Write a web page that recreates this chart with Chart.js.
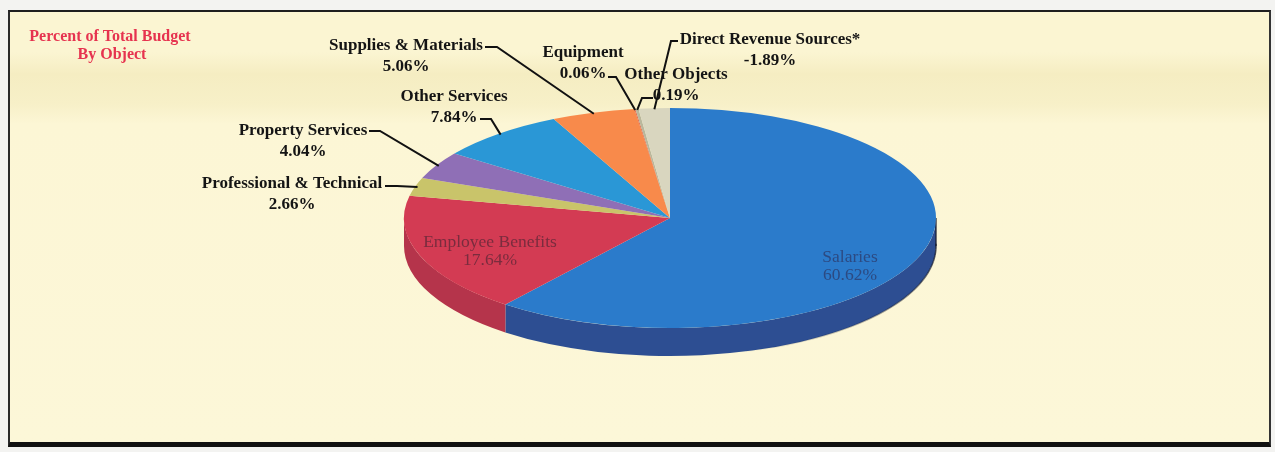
<!DOCTYPE html>
<html>
<head>
<meta charset="utf-8">
<title>Percent of Total Budget By Object</title>
<script src="https://cdn.jsdelivr.net/npm/chart.js@4.4.1/dist/chart.umd.min.js"></script>
<style>
  html, body { margin: 0; padding: 0; background: #f3f3f1; }
  #wrap { position: relative; width: 1275px; height: 452px; overflow: hidden; }
  #panel {
    position: absolute; left: 8px; top: 10px; width: 1259px; height: 430px;
    border-top: 2px solid #1e1e1e; border-left: 2px solid #2a2a2a;
    border-right: 2px solid #333; border-bottom: 5px solid #111;
    background: linear-gradient(to bottom, #fbf5d2 0px, #fbf5d2 40px, #f5edc2 62px,
      #f7f0c8 92px, #fcf6d5 112px, #fcf7d8 100%);
  }
  canvas { position: absolute; left: 0; top: 0; }
</style>
</head>
<body>
<div id="wrap">
  <div id="panel"></div>
  <canvas id="budgetPie" width="1275" height="452"></canvas>
</div>
<script>
// Slices, clockwise from 12 o'clock
const categories = [
  'Salaries',
  'Employee Benefits',
  'Professional & Technical',
  'Property Services',
  'Other Services',
  'Supplies & Materials',
  'Equipment',
  'Other Objects',
  'Direct Revenue Sources*'
];
const percentValues = [60.62, 17.64, 2.66, 4.04, 7.84, 5.06, 0.06, 0.19, -1.89];

const titleLines = ['Percent of Total Budget', 'By Object'];

// top face / side wall colours
const sliceColors = ['#2b7bcb', '#d33b53', '#c9c46a', '#8f6fb6', '#2a97d6', '#f88a4b', '#e0604a', '#b9b79c', '#d9d6bf'];
const sideColors  = ['#2d4e92', '#b5344b', '#a9a453', '#6f5396', '#23709f', '#c86a36', '#b0503a', '#929278', '#b0ad98'];

// ellipse shape of the 3D pie
const RX = 266, RY = 110, DEPTH = 28;
const PIE_R = 200;
const PIE_CX = 670, PIE_CY = 218;

// where each label sits; leader = text end -> elbow -> slice rim
const labelLayout = {
  0: { inside: true, x: 850, y: 257, color: '#2c4a82' },
  1: { inside: true, x: 490, y: 242, color: '#7a2c3e' },
  2: { x: 292, y: 184, from: [385, 186], elbow: [397, 186] },
  3: { x: 303, y: 131, from: [369, 131], elbow: [380, 131] },
  4: { x: 454, y: 97,  from: [480, 119], elbow: [491, 119] },
  5: { x: 406, y: 46,  from: [485, 47],  elbow: [497, 47] },
  6: { x: 583, y: 53,  from: [608, 77],  elbow: [616, 77] },
  7: { x: 676, y: 75,  from: [653, 98],  elbow: [642, 98] },
  8: { x: 770, y: 40,  from: [678, 41],  elbow: [671, 41] }
};

const fmt = v => v.toFixed(2) + '%';

const pie3d = {
  id: 'pie3d',
  beforeDatasetsDraw(chart) {
    const ctx = chart.ctx;
    const arcs = chart.getDatasetMeta(0).data;
    const cx = arcs[0].x, cy = arcs[0].y, r = arcs[0].outerRadius;

    // side wall, only the front half (canvas angles 0..PI) is visible
    arcs.forEach((arc, i) => {
      const a = Math.max(arc.startAngle, 0);
      const b = Math.min(arc.endAngle, Math.PI);
      if (b <= a) return;
      ctx.beginPath();
      ctx.ellipse(cx, cy, RX, RY, 0, a, b);
      ctx.ellipse(cx, cy + DEPTH, RX, RY, 0, b, a, true);
      ctx.closePath();
      ctx.fillStyle = sideColors[i];
      ctx.fill();
    });
    // soft dark rim on the shadow side
    ctx.save();
    ctx.lineWidth = 1.5;
    const steps = 24;
    for (let k = 0; k < steps; k++) {
      const t0 = -0.02 + (1.3 * k) / steps;
      const t1 = -0.02 + (1.3 * (k + 1)) / steps;
      ctx.strokeStyle = `rgba(20,25,45,${(0.8 * (1 - k / steps)).toFixed(3)})`;
      ctx.beginPath();
      ctx.ellipse(cx, cy + DEPTH, RX, RY, 0, t0, t1);
      ctx.stroke();
    }
    ctx.strokeStyle = 'rgba(20,25,45,0.8)';
    ctx.beginPath();
    ctx.moveTo(cx + RX, cy);
    ctx.lineTo(cx + RX, cy + DEPTH);
    ctx.stroke();
    ctx.restore();

    // squash the library's circular pie into the top ellipse
    ctx.save();
    ctx.translate(cx, cy);
    ctx.scale(RX / r, RY / r);
    ctx.translate(-cx, -cy);
  },
  afterDatasetsDraw(chart) {
    const ctx = chart.ctx;
    ctx.restore();

    const arcs = chart.getDatasetMeta(0).data;
    const cx = arcs[0].x, cy = arcs[0].y;

    // title
    ctx.save();
    ctx.fillStyle = '#e6334f';
    ctx.font = 'bold 16px "Liberation Serif", "Times New Roman", serif';
    ctx.textAlign = 'center';
    ctx.textBaseline = 'middle';
    ctx.fillText(titleLines[0], 110, 37);
    ctx.fillText(titleLines[1], 112, 55);
    ctx.restore();

    arcs.forEach((arc, i) => {
      const lay = labelLayout[i];
      if (!lay) return;
      ctx.save();
      ctx.textAlign = 'center';
      ctx.textBaseline = 'middle';
      if (lay.inside) {
        ctx.fillStyle = lay.color;
        ctx.filter = 'blur(0.4px)';
        ctx.font = '17.5px "Liberation Serif", "Times New Roman", serif';
        ctx.fillText(categories[i], lay.x, lay.y);
        ctx.fillText(fmt(percentValues[i]), lay.x, lay.y + 18);
      } else {
        const mid = (arc.startAngle + arc.endAngle) / 2;
        const px = cx + RX * 0.99 * Math.cos(mid);
        const py = cy + RY * 0.99 * Math.sin(mid);
        ctx.strokeStyle = '#111';
        ctx.lineWidth = 2;
        ctx.beginPath();
        ctx.moveTo(lay.from[0], lay.from[1]);
        ctx.lineTo(lay.elbow[0], lay.elbow[1]);
        ctx.lineTo(px, py);
        ctx.stroke();
        ctx.fillStyle = '#141414';
        ctx.font = 'bold 17px "Liberation Serif", "Times New Roman", serif';
        ctx.fillText(categories[i], lay.x, lay.y);
        ctx.fillText(fmt(percentValues[i]), lay.x, lay.y + 21);
      }
      ctx.restore();
    });
  }
};

const padTop = PIE_CY - PIE_R;
const padLeft = PIE_CX - PIE_R;

new Chart(document.getElementById('budgetPie').getContext('2d'), {
  type: 'pie',
  data: {
    labels: categories,
    datasets: [{
      data: percentValues.map(v => Math.abs(v)),
      backgroundColor: sliceColors,
      borderWidth: 0,
      hoverOffset: 0,
      clip: false
    }]
  },
  options: {
    responsive: false,
    maintainAspectRatio: false,
    animation: false,
    events: [],
    layout: {
      padding: {
        top: padTop,
        left: padLeft,
        right: 1275 - padLeft - 2 * PIE_R,
        bottom: 452 - padTop - 2 * PIE_R
      }
    },
    plugins: {
      legend: { display: false },
      tooltip: { enabled: false },
      title: { display: false }
    }
  },
  plugins: [pie3d]
});
</script>
</body>
</html>
